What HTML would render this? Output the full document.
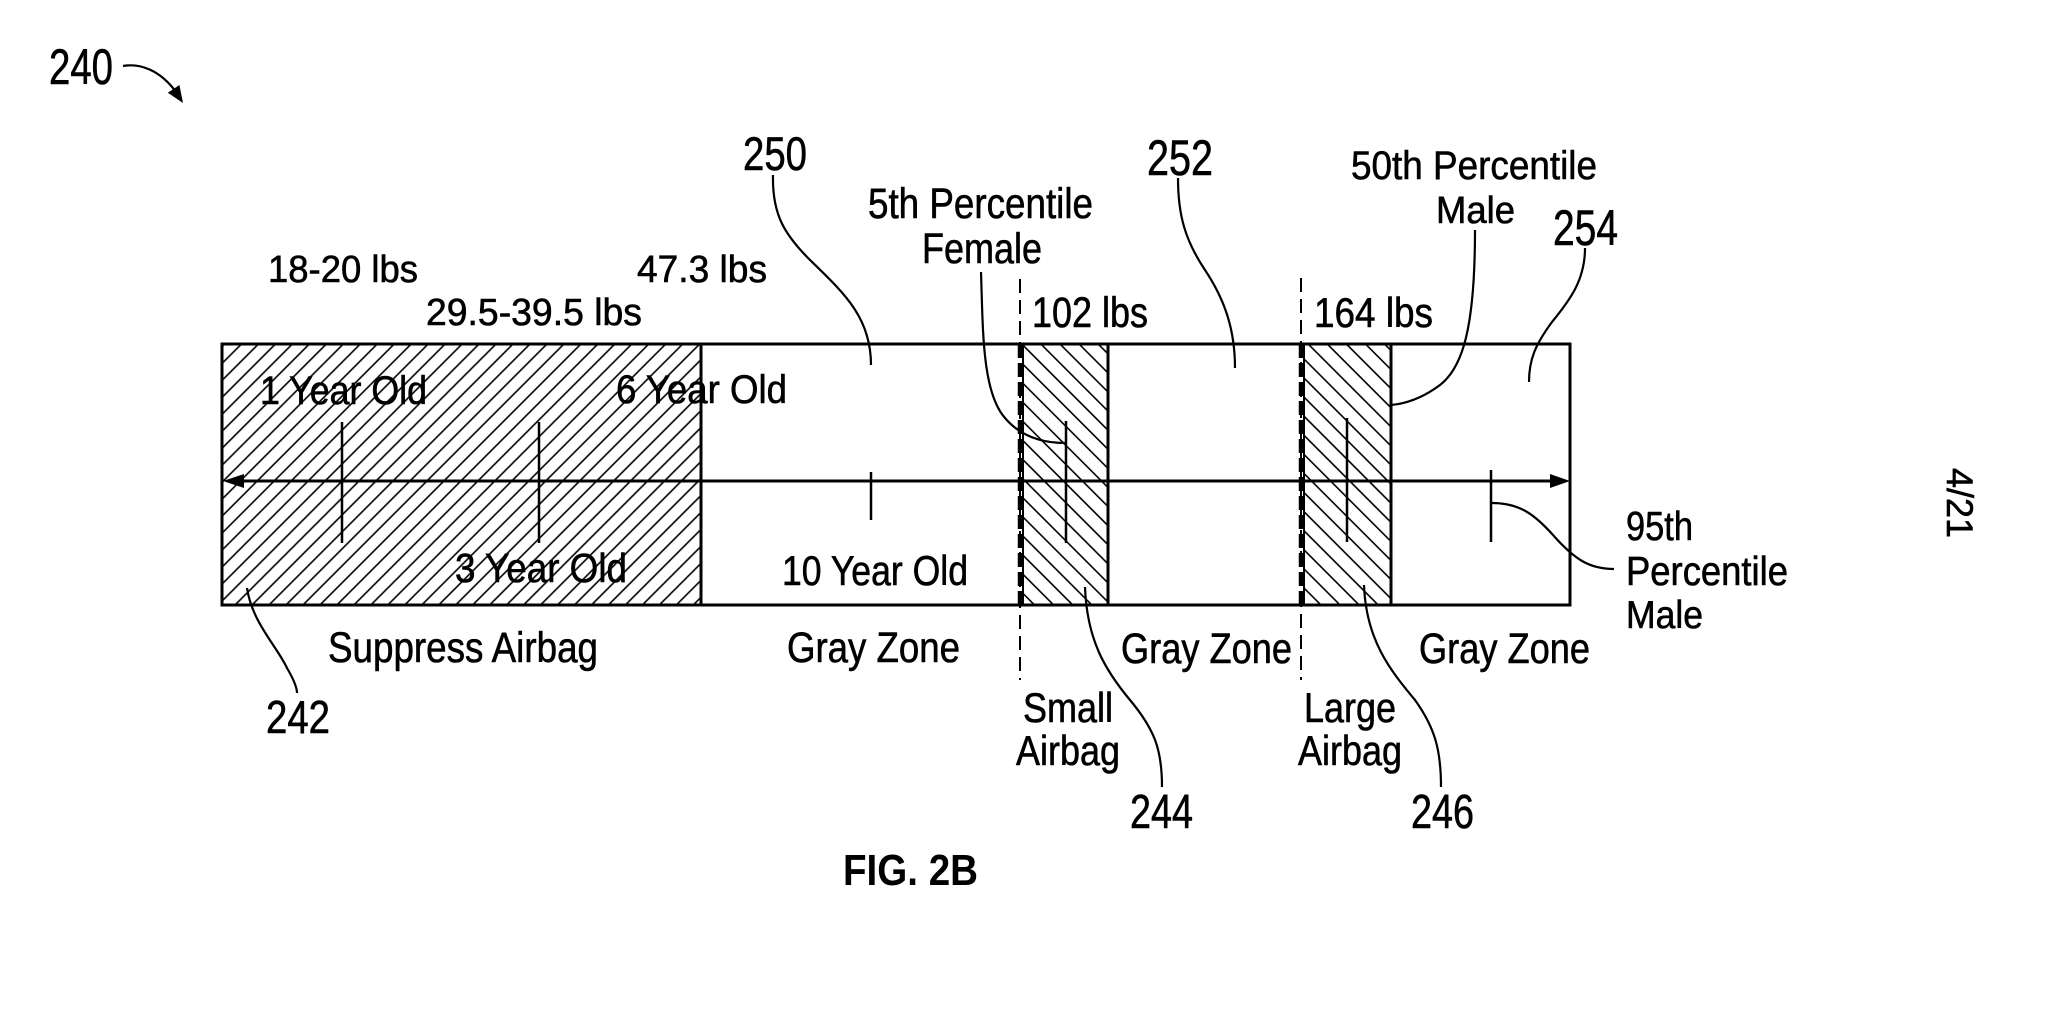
<!DOCTYPE html>
<html>
<head>
<meta charset="utf-8">
<style>
  html,body{margin:0;padding:0;background:#fff;}
  svg{display:block;}
  text{font-family:"Liberation Sans", Arial, sans-serif; fill:#000;}
  .t{stroke:#000;stroke-width:0.6;}
</style>
</head>
<body>
<svg width="2048" height="1030" viewBox="0 0 2048 1030" xmlns="http://www.w3.org/2000/svg">
  <defs>
    <pattern id="hl" patternUnits="userSpaceOnUse" width="12" height="12" patternTransform="rotate(45)">
      <line x1="6" y1="-2" x2="6" y2="14" stroke="#000" stroke-width="1.6"/>
    </pattern>
    <pattern id="hr" patternUnits="userSpaceOnUse" width="13.5" height="13.5" patternTransform="rotate(-45)">
      <line x1="6.75" y1="-2" x2="6.75" y2="16" stroke="#000" stroke-width="1.6"/>
    </pattern>
  </defs>
  <rect width="2048" height="1030" fill="#fff"/>

  <!-- 240 label + arrow -->
  <text class="t" x="49" y="84" font-size="50" textLength="64" lengthAdjust="spacingAndGlyphs">240</text>
  <path d="M123,66 C140,63 160,70 176,92" fill="none" stroke="#000" stroke-width="2.2"/>
  <polygon points="183,103 167.8,92.8 179.4,85" fill="#000"/>

  <!-- hatched regions -->
  <rect x="222" y="344" width="479" height="261" fill="url(#hl)"/>
  <rect x="1022" y="344" width="86" height="261" fill="url(#hr)"/>
  <rect x="1303" y="344" width="88" height="261" fill="url(#hr)"/>

  <!-- main rectangle -->
  <rect x="222" y="344" width="1348" height="261" fill="none" stroke="#000" stroke-width="3"/>
  <line x1="701" y1="344" x2="701" y2="605" stroke="#000" stroke-width="3"/>
  <line x1="1023" y1="344" x2="1023" y2="605" stroke="#000" stroke-width="2"/>
  <line x1="1108" y1="344" x2="1108" y2="605" stroke="#000" stroke-width="3"/>
  <line x1="1304" y1="344" x2="1304" y2="605" stroke="#000" stroke-width="2"/>
  <line x1="1391" y1="344" x2="1391" y2="605" stroke="#000" stroke-width="3"/>

  <!-- dashed lines -->
  <line x1="1020" y1="279" x2="1020" y2="680" stroke="#000" stroke-width="2" stroke-dasharray="14 7"/>
  <line x1="1020" y1="344" x2="1020" y2="605" stroke="#000" stroke-width="4.5" stroke-dasharray="14 5"/>
  <line x1="1301" y1="278" x2="1301" y2="680" stroke="#000" stroke-width="2" stroke-dasharray="14 7"/>
  <line x1="1301" y1="344" x2="1301" y2="605" stroke="#000" stroke-width="4.5" stroke-dasharray="14 5"/>

  <!-- horizontal double arrow -->
  <line x1="235" y1="481" x2="1556" y2="481" stroke="#000" stroke-width="3"/>
  <polygon points="223,481 244,474 244,488" fill="#000"/>
  <polygon points="1570,481 1550,474 1550,488" fill="#000"/>

  <!-- ticks -->
  <g stroke="#000" stroke-width="2.5">
    <line x1="342" y1="422" x2="342" y2="543"/>
    <line x1="539" y1="422" x2="539" y2="543"/>
    <line x1="871" y1="472" x2="871" y2="520"/>
    <line x1="1066" y1="421" x2="1066" y2="543"/>
    <line x1="1347" y1="418" x2="1347" y2="542"/>
    <line x1="1491" y1="470" x2="1491" y2="542"/>
  </g>

  <!-- leader lines -->
  <g fill="none" stroke="#000" stroke-width="2.2">
    <path d="M773,175 C772,215 785,235 810,260 C845,294 871,318 871,365"/>
    <path d="M981,272 C983,330 982,392 1005,418 C1022,438 1045,443 1065,443"/>
    <path d="M1178,178 C1178,215 1185,240 1205,270 C1225,300 1235,330 1235,368"/>
    <path d="M1475,230 C1475,330 1462,368 1440,385 C1420,400 1402,404 1391,405"/>
    <path d="M1585,248 C1585,280 1570,300 1552,322 C1535,345 1529,360 1529,382"/>
    <path d="M1492,503 C1520,503 1535,515 1553,535 C1575,560 1590,569 1614,569"/>
    <path d="M247,588 C252,622 276,645 287,668 C294,680 297,688 297,693"/>
    <path d="M1085,587 C1087,640 1105,670 1130,700 C1155,730 1162,750 1162,787"/>
    <path d="M1364,585 C1366,640 1390,670 1415,700 C1435,728 1441,750 1441,787"/>
  </g>

  <!-- reference numerals -->
  <text class="t" x="743" y="170" font-size="47" textLength="64" lengthAdjust="spacingAndGlyphs">250</text>
  <text class="t" x="1147" y="175" font-size="50" textLength="66" lengthAdjust="spacingAndGlyphs">252</text>
  <text class="t" x="1553" y="245" font-size="50" textLength="65" lengthAdjust="spacingAndGlyphs">254</text>
  <text class="t" x="266" y="733" font-size="46" textLength="64" lengthAdjust="spacingAndGlyphs">242</text>
  <text class="t" x="1130" y="828" font-size="48" textLength="63" lengthAdjust="spacingAndGlyphs">244</text>
  <text class="t" x="1411" y="828" font-size="48" textLength="63" lengthAdjust="spacingAndGlyphs">246</text>

  <!-- top labels -->
  <text class="t" x="268" y="282" font-size="38" textLength="150" lengthAdjust="spacingAndGlyphs">18-20 lbs</text>
  <text class="t" x="426" y="325" font-size="38" textLength="216" lengthAdjust="spacingAndGlyphs">29.5-39.5 lbs</text>
  <text class="t" x="637" y="282" font-size="38" textLength="130" lengthAdjust="spacingAndGlyphs">47.3 lbs</text>
  <text class="t" x="868" y="218" font-size="43" textLength="225" lengthAdjust="spacingAndGlyphs">5th Percentile</text>
  <text class="t" x="922" y="263" font-size="43" textLength="120" lengthAdjust="spacingAndGlyphs">Female</text>
  <text class="t" x="1032" y="327" font-size="43" textLength="116" lengthAdjust="spacingAndGlyphs">102 lbs</text>
  <text class="t" x="1314" y="327" font-size="42" textLength="119" lengthAdjust="spacingAndGlyphs">164 lbs</text>
  <text class="t" x="1351" y="179" font-size="40" textLength="246" lengthAdjust="spacingAndGlyphs">50th Percentile</text>
  <text class="t" x="1436" y="223" font-size="38" textLength="79" lengthAdjust="spacingAndGlyphs">Male</text>

  <!-- inside labels -->
  <text class="t" x="260" y="404" font-size="40" textLength="167" lengthAdjust="spacingAndGlyphs">1 Year Old</text>
  <text class="t" x="616" y="403" font-size="40" textLength="171" lengthAdjust="spacingAndGlyphs">6 Year Old</text>
  <text class="t" x="455" y="582" font-size="41" textLength="172" lengthAdjust="spacingAndGlyphs">3 Year Old</text>
  <text class="t" x="782" y="585" font-size="42" textLength="186" lengthAdjust="spacingAndGlyphs">10 Year Old</text>

  <!-- bottom labels -->
  <text class="t" x="328" y="662" font-size="43" textLength="270" lengthAdjust="spacingAndGlyphs">Suppress Airbag</text>
  <text class="t" x="787" y="662" font-size="43" textLength="173" lengthAdjust="spacingAndGlyphs">Gray Zone</text>
  <text class="t" x="1121" y="663" font-size="43" textLength="171" lengthAdjust="spacingAndGlyphs">Gray Zone</text>
  <text class="t" x="1419" y="663" font-size="43" textLength="171" lengthAdjust="spacingAndGlyphs">Gray Zone</text>
  <text class="t" x="1023" y="722" font-size="42" textLength="90" lengthAdjust="spacingAndGlyphs">Small</text>
  <text class="t" x="1016" y="765" font-size="42" textLength="104" lengthAdjust="spacingAndGlyphs">Airbag</text>
  <text class="t" x="1304" y="722" font-size="42" textLength="92" lengthAdjust="spacingAndGlyphs">Large</text>
  <text class="t" x="1298" y="765" font-size="42" textLength="104" lengthAdjust="spacingAndGlyphs">Airbag</text>

  <!-- 95th percentile male -->
  <text class="t" x="1626" y="540" font-size="41" textLength="67" lengthAdjust="spacingAndGlyphs">95th</text>
  <text class="t" x="1626" y="585" font-size="41" textLength="162" lengthAdjust="spacingAndGlyphs">Percentile</text>
  <text class="t" x="1626" y="628" font-size="39" textLength="77" lengthAdjust="spacingAndGlyphs">Male</text>

  <!-- figure caption -->
  <text x="843" y="885" font-size="44" font-weight="bold" textLength="135" lengthAdjust="spacingAndGlyphs">FIG. 2B</text>

  <!-- sheet number -->
  <text class="t" transform="translate(1947,468) rotate(90)" x="0" y="0" font-size="37" textLength="70" lengthAdjust="spacingAndGlyphs">4/21</text>
</svg>
</body>
</html>
